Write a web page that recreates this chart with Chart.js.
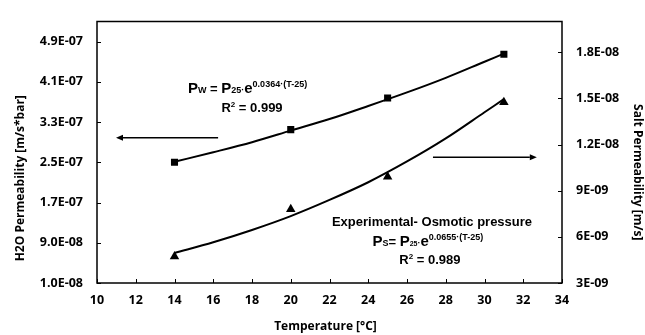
<!DOCTYPE html>
<html>
<head>
<meta charset="utf-8">
<script src="https://cdn.jsdelivr.net/npm/chart.js@4/dist/chart.umd.min.js"></script>
<style>
html,body{margin:0;padding:0;background:#fff;overflow:hidden;}
#wrap{width:645px;height:335px;}
</style>
</head>
<body>
<div id="wrap"><canvas id="c" width="645" height="335"></canvas></div>
<script>
// ---- data ----
const temperatures = [14, 20, 25, 31];
const waterPerm = [2.50e-7, 3.15e-7, 3.78e-7, 4.65e-7];
const saltPerm = [4.73e-9, 7.80e-9, 9.90e-9, 1.475e-8];
const trendT = [14, 16, 18, 20, 22, 24, 26, 28, 30, 31];
const waterTrend = [2.51e-7, 2.70e-7, 2.90e-7, 3.13e-7, 3.36e-7, 3.62e-7, 3.89e-7, 4.18e-7, 4.50e-7, 4.66e-7];
const saltTrend = [4.95e-9, 5.65e-9, 6.45e-9, 7.35e-9, 8.4e-9, 9.55e-9, 1.09e-8, 1.24e-8, 1.41e-8, 1.495e-8];
const leftTicks = [1.0e-8, 9.0e-8, 1.7e-7, 2.5e-7, 3.3e-7, 4.1e-7, 4.9e-7];
const leftTickLabels = ['1.0E-08', '9.0E-08', '1.7E-07', '2.5E-07', '3.3E-07', '4.1E-07', '4.9E-07'];
const rightTicks = [3e-9, 6e-9, 9e-9, 1.2e-8, 1.5e-8, 1.8e-8];
const rightTickLabels = ['3E-09', '6E-09', '9E-09', '1.2E-08', '1.5E-08', '1.8E-08'];
const xTicks = [10, 12, 14, 16, 18, 20, 22, 24, 26, 28, 30, 32, 34];
const xTitle = 'Temperature [\u00B0C]';
const yTitle = 'H2O Permeability [m/s*bar]';
const y1Title = 'Salt Permeability [m/s]';

const pts = (xs, ys) => xs.map((x, i) => ({x: x, y: ys[i]}));

const TICK_FONT = {family: '"Open Sans", sans-serif', size: 12.5, weight: 'bold'};
const ANN = '"Liberation Sans", Arial, sans-serif';

function drawRich(ctx, segs, cx, cy) {
  let w = 0;
  segs.forEach(s => { ctx.font = 'bold ' + s.s + 'px ' + ANN; s.w = ctx.measureText(s.t).width; w += s.w; });
  let x = cx - w / 2;
  ctx.textBaseline = 'alphabetic';
  ctx.textAlign = 'left';
  segs.forEach(s => {
    ctx.font = 'bold ' + s.s + 'px ' + ANN;
    ctx.fillText(s.t, x, cy + 5 + (s.dy || 0));
    x += s.w;
  });
}

function arrow(ctx, x1, y1, x2, y2) {
  ctx.save();
  ctx.strokeStyle = '#000'; ctx.fillStyle = '#000'; ctx.lineWidth = 1.5;
  const ang = Math.atan2(y2 - y1, x2 - x1);
  const hl = 7, hw = 3;
  const bx = x2 - hl * Math.cos(ang), by = y2 - hl * Math.sin(ang);
  ctx.beginPath(); ctx.moveTo(x1, y1); ctx.lineTo(bx, by); ctx.stroke();
  ctx.beginPath();
  ctx.moveTo(x2, y2);
  ctx.lineTo(bx + hw * Math.sin(ang), by - hw * Math.cos(ang));
  ctx.lineTo(bx - hw * Math.sin(ang), by + hw * Math.cos(ang));
  ctx.closePath(); ctx.fill();
  ctx.restore();
}

const decor = {
  id: 'decor',
  afterDraw(chart) {
    const ctx = chart.ctx, a = chart.chartArea;
    const sx = chart.scales.x, sy = chart.scales.y, sy1 = chart.scales.y1;
    ctx.save();
    // frame
    ctx.strokeStyle = '#000'; ctx.lineWidth = 1.5;
    ctx.strokeRect(a.left, a.top, a.right - a.left, a.bottom - a.top);
    // inward ticks
    ctx.lineWidth = 1;
    ctx.beginPath();
    sx.ticks.forEach(t => { const p = Math.round(sx.getPixelForValue(t.value)) + 0.5; ctx.moveTo(p, a.bottom); ctx.lineTo(p, a.bottom - 4); });
    sy.ticks.forEach(t => { const p = Math.round(sy.getPixelForValue(t.value)) + 0.5; ctx.moveTo(a.left, p); ctx.lineTo(a.left + 4, p); });
    sy1.ticks.forEach(t => { const p = Math.round(sy1.getPixelForValue(t.value)) + 0.5; ctx.moveTo(a.right, p); ctx.lineTo(a.right - 4, p); });
    ctx.stroke();
    // axis titles
    ctx.fillStyle = '#000';
    ctx.font = 'bold 12px "Open Sans", sans-serif';
    ctx.textAlign = 'center'; ctx.textBaseline = 'middle';
    ctx.fillText(xTitle, (a.left + a.right) / 2 - 4, 327);
    ctx.save(); ctx.translate(21, (a.top + a.bottom) / 2 + 26); ctx.rotate(-Math.PI / 2); ctx.fillText(yTitle, 0, 0); ctx.restore();
    ctx.save(); ctx.translate(637, (a.top + a.bottom) / 2 + 20); ctx.rotate(Math.PI / 2); ctx.fillText(y1Title, 0, 0); ctx.restore();
    // arrows
    arrow(ctx, sx.getPixelForValue(16.25), sy.getPixelForValue(2.99e-7), sx.getPixelForValue(10.98), sy.getPixelForValue(2.99e-7));
    arrow(ctx, sx.getPixelForValue(27.34), sy1.getPixelForValue(1.118e-8), sx.getPixelForValue(32.7), sy1.getPixelForValue(1.118e-8));
    // annotations
    ctx.fillStyle = '#000';
    drawRich(ctx, [
      {t: 'P', s: 15}, {t: 'W', s: 9}, {t: ' = ', s: 13}, {t: 'P', s: 15}, {t: '25', s: 9}, {t: '\u00B7', s: 9},
      {t: 'e', s: 15}, {t: '0.0364\u00B7(T-25)', s: 9, dy: -6}
    ], sx.getPixelForValue(17.77), sy.getPixelForValue(3.98e-7));
    drawRich(ctx, [{t: 'R', s: 13}, {t: '2', s: 8, dy: -5}, {t: ' = 0.999', s: 13}],
      sx.getPixelForValue(18.0), sy.getPixelForValue(3.59e-7));
    drawRich(ctx, [{t: 'Experimental- Osmotic pressure', s: 13}],
      sx.getPixelForValue(27.29), sy1.getPixelForValue(7.06e-9));
    drawRich(ctx, [
      {t: 'P', s: 15}, {t: 'S', s: 9}, {t: '= ', s: 13}, {t: 'P', s: 15}, {t: '25', s: 7}, {t: '\u00B7', s: 9},
      {t: 'e', s: 15}, {t: '0.0655\u00B7(T-25)', s: 9, dy: -6}
    ], sx.getPixelForValue(27.08), sy1.getPixelForValue(5.73e-9));
    drawRich(ctx, [{t: 'R', s: 13}, {t: '2', s: 8, dy: -5}, {t: ' = 0.989', s: 13}],
      sx.getPixelForValue(27.18), sy1.getPixelForValue(4.59e-9));
    ctx.restore();
  }
};

new Chart(document.getElementById('c'), {
  type: 'scatter',
  data: {
    datasets: [
      {label: 'Water trend', data: pts(trendT, waterTrend), yAxisID: 'y', showLine: true, pointRadius: 0,
       borderColor: '#000', borderWidth: 2, cubicInterpolationMode: 'monotone', order: 2},
      {label: 'Salt trend', data: pts(trendT, saltTrend), yAxisID: 'y1', showLine: true, pointRadius: 0,
       borderColor: '#000', borderWidth: 2, cubicInterpolationMode: 'monotone', order: 2},
      {label: 'Water permeability', data: pts(temperatures, waterPerm), yAxisID: 'y', pointStyle: 'rect',
       pointRadius: 5, backgroundColor: '#000', borderColor: '#000', borderWidth: 0, order: 1},
      {label: 'Salt permeability', data: pts(temperatures, saltPerm), yAxisID: 'y1', pointStyle: 'triangle',
       pointRadius: 5.5, backgroundColor: '#000', borderColor: '#000', borderWidth: 0, order: 1}
    ]
  },
  options: {
    responsive: false,
    animation: false,
    layout: {padding: {top: 15, left: 0, right: 0, bottom: 0}},
    plugins: {legend: {display: false}, tooltip: {enabled: false}},
    scales: {
      x: {
        type: 'linear', min: 10, max: 34,
        afterBuildTicks: s => { s.ticks = xTicks.map(v => ({value: v})); },
        afterFit: s => { s.height = 52; },
        grid: {display: false, drawTicks: false},
        border: {display: false},
        ticks: {color: '#000', font: TICK_FONT, padding: 10, maxRotation: 0, callback: v => String(v)}
      },
      y: {
        type: 'linear', position: 'left', min: 1.0e-8, max: 5.3e-7,
        afterBuildTicks: s => { s.ticks = leftTicks.map(v => ({value: v})); },
        afterFit: s => { s.width = 97; },
        grid: {display: false, drawTicks: false},
        border: {display: false},
        ticks: {color: '#000', font: TICK_FONT, padding: 14, callback: (v, i) => leftTickLabels[i]}
      },
      y1: {
        type: 'linear', position: 'right', min: 3e-9, max: 2.0e-8,
        afterBuildTicks: s => { s.ticks = rightTicks.map(v => ({value: v})); },
        afterFit: s => { s.width = 83; },
        grid: {display: false, drawTicks: false},
        border: {display: false},
        ticks: {color: '#000', font: TICK_FONT, padding: 14, callback: (v, i) => rightTickLabels[i]}
      }
    }
  },
  plugins: [decor]
});
</script>
</body>
</html>
